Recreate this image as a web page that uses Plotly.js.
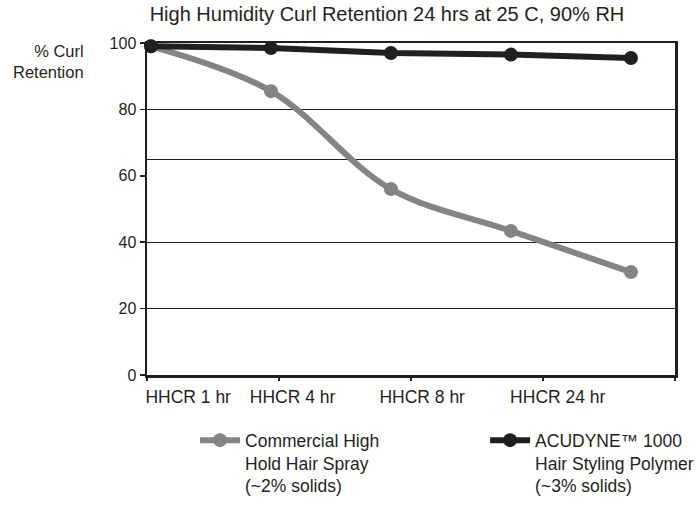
<!DOCTYPE html>
<html><head><meta charset="utf-8">
<script src="https://cdn.plot.ly/plotly-3.0.1.min.js"></script>
<style>html,body{margin:0;padding:0;background:#fff}#chart{width:697px;height:510px}</style>
</head><body><div id="chart"></div>
<script>
const timeLabels = ["HHCR 1 hr", "HHCR 4 hr", "HHCR 8 hr", "HHCR 24 hr"];
const pointIndex = [0, 1, 2, 3, 4];
const commercialSpray = [99, 85.5, 56, 43.4, 31];
const acudyne = [99, 98.5, 97, 96.5, 95.5];
const seriesNames = [
  "Commercial High<br>Hold Hair Spray<br>(~2% solids)",
  "ACUDYNE™ 1000<br>Hair Styling Polymer<br>(~3% solids)"
];
const yTickValues = [0, 20, 40, 60, 80, 100];
const gridValues = [20, 40, 65, 80];

const FONT = "'Liberation Sans', Arial, Helvetica, sans-serif";
const INK = "#231f20";

const traces = [
  {
    x: pointIndex, y: commercialSpray, name: seriesNames[0], legend: "legend",
    type: "scatter", mode: "lines+markers",
    line: {color: "#848484", width: 6, shape: "spline", smoothing: 1},
    marker: {color: "#848484", size: 14},
    cliponaxis: false, hoverinfo: "skip"
  },
  {
    x: pointIndex, y: acudyne, name: seriesNames[1], legend: "legend2",
    type: "scatter", mode: "lines+markers",
    line: {color: INK, width: 6},
    marker: {color: INK, size: 14},
    cliponaxis: false, hoverinfo: "skip"
  },
  {
    x: [null], y: [null], xaxis: "x2", yaxis: "y2",
    showlegend: false, hoverinfo: "skip", mode: "markers"
  }
];

const legendCommon = {
  orientation: "h",
  xref: "container", yref: "container", xanchor: "left", yanchor: "top",
  y: 0.172, valign: "top", itemwidth: 40,
  font: {family: FONT, size: 17.5, color: INK},
  bgcolor: "rgba(0,0,0,0)", borderwidth: 0
};

const layout = {
  width: 697, height: 510,
  margin: {l: 147, r: 22, t: 43, b: 135, pad: 0},
  paper_bgcolor: "#ffffff", plot_bgcolor: "#ffffff",
  font: {family: FONT, size: 16, color: INK},
  title: {
    text: "High Humidity Curl Retention 24 hrs at 25 C, 90% RH",
    xref: "paper", x: 0.005, xanchor: "left",
    yref: "container", y: 0.972, yanchor: "middle",
    font: {family: FONT, size: 20, color: INK}
  },
  showlegend: true,
  legend: Object.assign({}, legendCommon, {x: 0.2798}),
  legend2: Object.assign({}, legendCommon, {x: 0.696}),
  xaxis: {
    range: [-0.033, 4.367],
    tickmode: "array", tickvals: [0.31, 1.18, 2.26, 3.39], ticktext: timeLabels,
    ticks: "", showgrid: false, zeroline: false,
    showline: true, mirror: true, linecolor: INK, linewidth: 2.5,
    tickfont: {family: FONT, size: 17.5, color: INK}, ticklabelstandoff: 4,
    fixedrange: true
  },
  xaxis2: {
    overlaying: "x", range: [0, 4], tickmode: "linear", tick0: 0, dtick: 1,
    ticks: "outside", ticklen: 5, tickwidth: 1.5, tickcolor: INK,
    showticklabels: false, showgrid: false, zeroline: false, showline: false,
    side: "bottom", fixedrange: true
  },
  yaxis: {
    range: [0, 100], tickmode: "array", tickvals: yTickValues,
    ticks: "outside", ticklen: 5, tickwidth: 1.5, tickcolor: INK,
    showgrid: false, zeroline: false,
    showline: true, mirror: true, linecolor: INK, linewidth: 2.5,
    tickfont: {family: FONT, size: 16, color: INK}, fixedrange: true
  },
  yaxis2: {
    overlaying: "y", range: [0, 100], tickmode: "array", tickvals: gridValues,
    showgrid: true, gridcolor: INK, gridwidth: 1,
    showticklabels: false, ticks: "", zeroline: false, showline: false,
    side: "left", fixedrange: true
  },
  annotations: [
    {
      text: "% Curl<br>Retention", xref: "paper", yref: "paper",
      x: -0.1155, xanchor: "right", y: 0.945, yanchor: "middle",
      align: "right", showarrow: false,
      font: {family: FONT, size: 16.5, color: INK}
    }
  ]
};

Plotly.newPlot("chart", traces, layout, {displayModeBar: false, staticPlot: true});
</script>
</body></html>
